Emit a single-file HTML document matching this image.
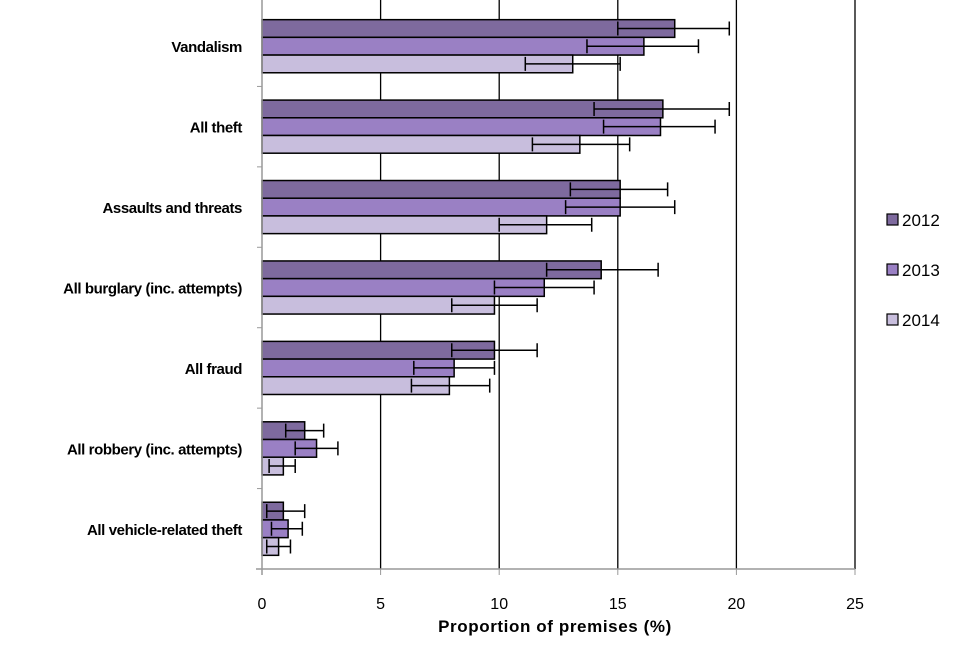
<!DOCTYPE html>
<html><head><meta charset="utf-8"><style>
body{margin:0;background:#fff;}
svg text{font-family:"Liberation Sans",sans-serif;}
</style></head><body>
<svg id="chart" width="960" height="640" xmlns="http://www.w3.org/2000/svg"></svg>
<script>
const categories=["Vandalism","All theft","Assaults and threats","All burglary (inc. attempts)","All fraud","All robbery (inc. attempts)","All vehicle-related theft"];
const seriesNames=["2012","2013","2014"];
const values2012=[17.4,16.9,15.1,14.3,9.8,1.8,0.9];
const values2013=[16.1,16.8,15.1,11.9,8.1,2.3,1.1];
const values2014=[13.1,13.4,12.0,9.8,7.9,0.9,0.7];
const low2012=[15.0,14.0,13.0,12.0,8.0,1.0,0.2];
const high2012=[19.7,19.7,17.1,16.7,11.6,2.6,1.8];
const low2013=[13.7,14.4,12.8,9.8,6.4,1.4,0.4];
const high2013=[18.4,19.1,17.4,14.0,9.8,3.2,1.7];
const low2014=[11.1,11.4,10.0,8.0,6.3,0.3,0.2];
const high2014=[15.1,15.5,13.9,11.6,9.6,1.4,1.2];
const xTicks=[0,5,10,15,20,25];
const colors=["#7e6a9e","#9a80c4","#c8bedd"];
const NS="http://www.w3.org/2000/svg";
const svg=document.getElementById('chart');
const x0=262,x1=855,yTop=6,yBot=569;
const xs=v=>x0+(v/25)*(x1-x0);
const band=(yBot-yTop)/categories.length;
function el(t,a,p){const e=document.createElementNS(NS,t);for(const k in a)e.setAttribute(k,a[k]);(p||svg).appendChild(e);return e;}
xTicks.forEach((t,i)=>{
  if(t>0){const g=el('line',{x1:xs(t),x2:xs(t),y1:0,y2:yBot,stroke:'#000','stroke-width':1.3});
  
  }
  const tk=el('line',{x1:xs(t),x2:xs(t),y1:yBot,y2:yBot+6,stroke:'#999','stroke-width':1});
  
  
  const tx=el('text',{x:xs(t),y:609,'text-anchor':'middle','font-size':16,fill:'#000'});
  tx.textContent=t;
  
  
});
const vals=[values2012,values2013,values2014],lows=[low2012,low2013,low2014],highs=[high2012,high2013,high2014];
const bh=17.7;
categories.forEach((c,i)=>{
  const top=yTop+i*band;
  const start=top+(band-3*bh)/2;
  const tk=el('line',{x1:x0-5,x2:x0,y1:top+band,y2:top+band,stroke:'#999','stroke-width':1});
  
  
  const lb=el('text',{x:242,y:top+band/2+6,'text-anchor':'end','font-size':15,'letter-spacing':-0.4,'font-weight':'bold',fill:'#000'});
  lb.textContent=c;
  
  
  for(let s=0;s<3;s++){
    const y=start+s*bh;
    const r=el('rect',{x:x0,y:y,width:xs(vals[s][i])-x0,height:bh,fill:colors[s],stroke:'#000','stroke-width':1.5});
    
    
    const cy=y+bh/2,lx=xs(lows[s][i]),hx=xs(highs[s][i]);
    const eb=el('path',{d:`M${lx},${cy}H${hx}M${lx},${cy-7}V${cy+7}M${hx},${cy-7}V${cy+7}`,stroke:'#000','stroke-width':1.5,fill:'none'});
    
    
  }
});
const ax=el('line',{x1:x0,x2:x0,y1:0,y2:yBot+6,stroke:'#999','stroke-width':1.5});


const bx=el('line',{x1:x0-6,x2:x1,y1:yBot,y2:yBot,stroke:'#999','stroke-width':1.5});


const xt=el('text',{x:555,y:632,'text-anchor':'middle','font-size':17,'letter-spacing':0.6,'font-weight':'bold',fill:'#000'});
xt.textContent='Proportion of premises (%)';


seriesNames.forEach((n,s)=>{
  const y=226+s*50;
  const g=el('g',{});
  
  
  el('rect',{x:887,y:y-12,width:11,height:11,fill:colors[s],stroke:'#000','stroke-width':1.2},g);
  const t=el('text',{x:902,y:y,'font-size':17,fill:'#000'},g);
  t.textContent=n;
});
</script>
</body></html>
